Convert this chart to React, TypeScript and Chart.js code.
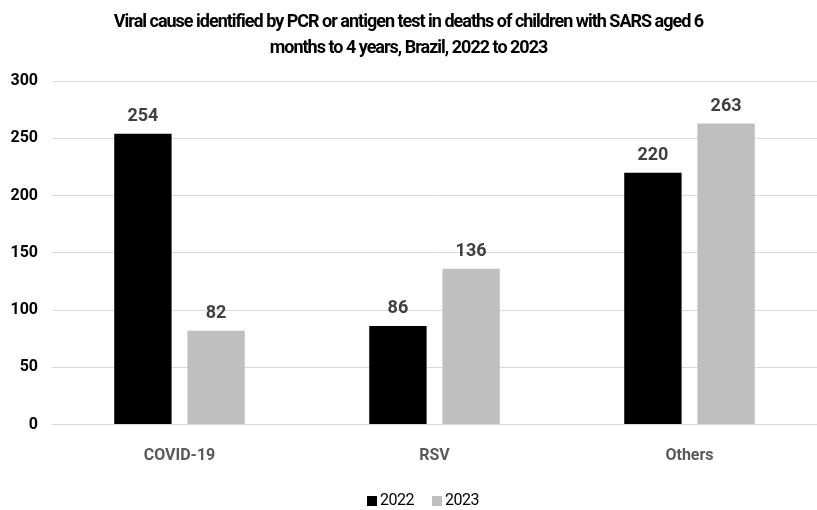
import React, { useEffect, useRef } from "react";
import { Chart, registerables } from "chart.js";

Chart.register(...registerables);

const categories = ["COVID-19", "RSV", "Others"];
const values2022 = [254, 86, 220];
const values2023 = [82, 136, 263];
const seriesLabels = ["2022", "2023"];
const seriesColors = ["#000000", "#bfbfbf"];
const yTicks = [0, 50, 100, 150, 200, 250, 300];
const titleLines = [
  "Viral cause identified by PCR or antigen test in deaths of children with SARS aged 6",
  "months to 4 years, Brazil, 2022 to 2023",
];

const FONT = "Roboto, 'Open Sans', sans-serif";

const dataLabelPlugin = {
  id: "dataLabels",
  afterDatasetsDraw(chart: any) {
    const ctx = chart.ctx;
    ctx.save();
    ctx.font = `bold 18px ${FONT}`;
    ctx.fillStyle = "#404040";
    ctx.textAlign = "center";
    ctx.textBaseline = "alphabetic";
    chart.data.datasets.forEach((ds: any, di: number) => {
      const meta = chart.getDatasetMeta(di);
      meta.data.forEach((bar: any, i: number) => {
        ctx.fillText(String(ds.data[i]), bar.x, bar.y - 13);
      });
    });
    ctx.restore();
  },
};

const condensedTitlePlugin = {
  id: "condensedTitle",
  afterDraw(chart: any) {
    const ctx = chart.ctx;
    const title = chart.titleBlock;
    if (!title) return;
    ctx.save();
    ctx.font = `bold 18px ${FONT}`;
    try {
      (ctx as any).letterSpacing = "-1px";
    } catch (e) {}
    ctx.fillStyle = "#000000";
    ctx.textAlign = "center";
    ctx.textBaseline = "middle";
    const cx = chart.width / 2;
    const lh = 26;
    const top = title.top + 9;
    titleLines.forEach((line, i) => {
      ctx.fillText(line, cx, top + lh * i + lh / 2);
    });
    ctx.restore();
  },
};

const legendPlugin = {
  id: "customLegend",
  afterDraw(chart: any) {
    const ctx = chart.ctx;
    ctx.save();
    ctx.font = `16px ${FONT}`;
    try {
      (ctx as any).letterSpacing = "-0.5px";
    } catch (e) {}
    ctx.textAlign = "left";
    ctx.textBaseline = "middle";
    const cy = 501;
    const startX = 367;
    const step = 65;
    seriesLabels.forEach((label, i) => {
      const x = startX + i * step;
      ctx.fillStyle = seriesColors[i];
      ctx.fillRect(x, cy - 5, 10, 10);
      ctx.fillStyle = "#000000";
      ctx.fillText(label, x + 13, cy);
    });
    ctx.restore();
  },
};

export default function App() {
  const ref = useRef<HTMLCanvasElement | null>(null);
  useEffect(() => {
    if (!ref.current) return;
    const chart = new Chart(ref.current, {
      type: "bar",
      data: {
        labels: categories,
        datasets: [
          {
            label: seriesLabels[0],
            data: values2022,
            backgroundColor: seriesColors[0],
            borderWidth: 0,
            categoryPercentage: 0.574,
            barPercentage: 0.784,
          },
          {
            label: seriesLabels[1],
            data: values2023,
            backgroundColor: seriesColors[1],
            borderWidth: 0,
            categoryPercentage: 0.574,
            barPercentage: 0.784,
          },
        ],
      },
      options: {
        animation: false,
        responsive: false,
        maintainAspectRatio: false,
        layout: { padding: { left: 0, right: 0, top: 0, bottom: 23.5 } },
        plugins: {
          title: {
            display: true,
            text: titleLines,
            color: "rgba(0,0,0,0)",
            font: { family: FONT, size: 18, weight: "bold", lineHeight: 1.45 },
            padding: { top: 9, bottom: 20 },
          },
          legend: { display: false },
          tooltip: { enabled: false },
        },
        scales: {
          x: {
            grid: { display: false, drawTicks: false },
            border: { display: true, color: "#d9d9d9", width: 1 },
            afterFit: (scale: any) => {
              scale.height = 62;
            },
            ticks: {
              color: "#595959",
              font: { family: FONT, size: 16, weight: "bold" },
              padding: 22,
            },
          },
          y: {
            min: 0,
            max: 300,
            afterBuildTicks: (scale: any) => {
              scale.ticks = yTicks.map((v) => ({ value: v }));
            },
            afterFit: (scale: any) => {
              scale.width = 52;
            },
            grid: { color: "#d9d9d9", drawTicks: false },
            border: { display: false },
            ticks: {
              color: "#000000",
              font: { family: FONT, size: 16, weight: "bold" },
              padding: 14,
            },
          },
        },
      },
      plugins: [dataLabelPlugin, condensedTitlePlugin, legendPlugin],
    });
    return () => chart.destroy();
  }, []);
  return (
    <div style={{ position: "absolute", left: 0, top: 0, width: 817, height: 510, background: "#fff" }}>
      <canvas ref={ref} width={817} height={510} />
    </div>
  );
}
